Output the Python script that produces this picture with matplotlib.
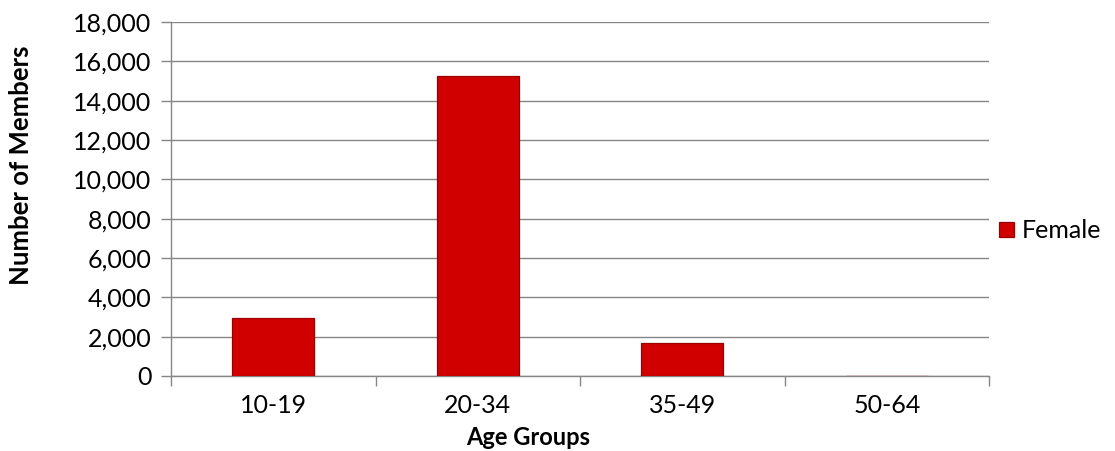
import numpy as np
import matplotlib
matplotlib.use("Agg")
import matplotlib.pyplot as plt
from matplotlib.ticker import FuncFormatter, FixedLocator

# data
age_groups = ["10-19", "20-34", "35-49", "50-64"]
female = [2950, 15250, 1700, 0]

plt.rcParams['font.family'] = ['Lato', 'DejaVu Sans']

fig = plt.figure(figsize=(11.15, 4.51), dpi=100)
ax = fig.add_axes([0.1534, 0.1663, 0.7336, 0.7849])

x = np.arange(len(age_groups))
ax.bar(x, female, width=0.4, color="#D00000", edgecolor="#9A0000",
       linewidth=0.9, label="Female", zorder=3)

grey = "#868686"
ax.set_ylim(0, 18000)
ax.set_xlim(-0.5, len(age_groups) - 0.5)
ax.set_yticks(np.arange(0, 18001, 2000))
ax.yaxis.set_major_formatter(FuncFormatter(lambda v, p: f"{int(v):,}"))
ax.grid(axis="y", color=grey, linewidth=1.0, zorder=0)

ax.set_xticks(x)
ax.set_xticklabels(age_groups)
ax.xaxis.set_minor_locator(FixedLocator(np.arange(-0.5, len(age_groups), 1.0)))
ax.tick_params(axis="x", which="major", length=0, pad=13, labelsize=18)
ax.tick_params(axis="x", which="minor", length=7, color=grey, width=1.0)
ax.tick_params(axis="y", length=7, color=grey, width=1.0, labelsize=18, pad=7)

for s in ["top", "right"]:
    ax.spines[s].set_visible(False)
for s in ["left", "bottom"]:
    ax.spines[s].set_color(grey)
    ax.spines[s].set_linewidth(1.0)

ax.set_xlabel("Age Groups", fontsize=17, fontweight="bold")
ax.set_ylabel("Number of Members", fontsize=18.5, fontweight="bold")
ax.xaxis.set_label_coords(0.436, -0.14)
ax.yaxis.set_label_coords(-0.169, 0.596)

ax.legend(loc="center left", bbox_to_anchor=(1.012, 0.41), frameon=False,
          fontsize=18, handlelength=0.6, handleheight=0.6, handletextpad=0.3,
          borderaxespad=0, borderpad=0)

fig.savefig("out.png", dpi=100)
